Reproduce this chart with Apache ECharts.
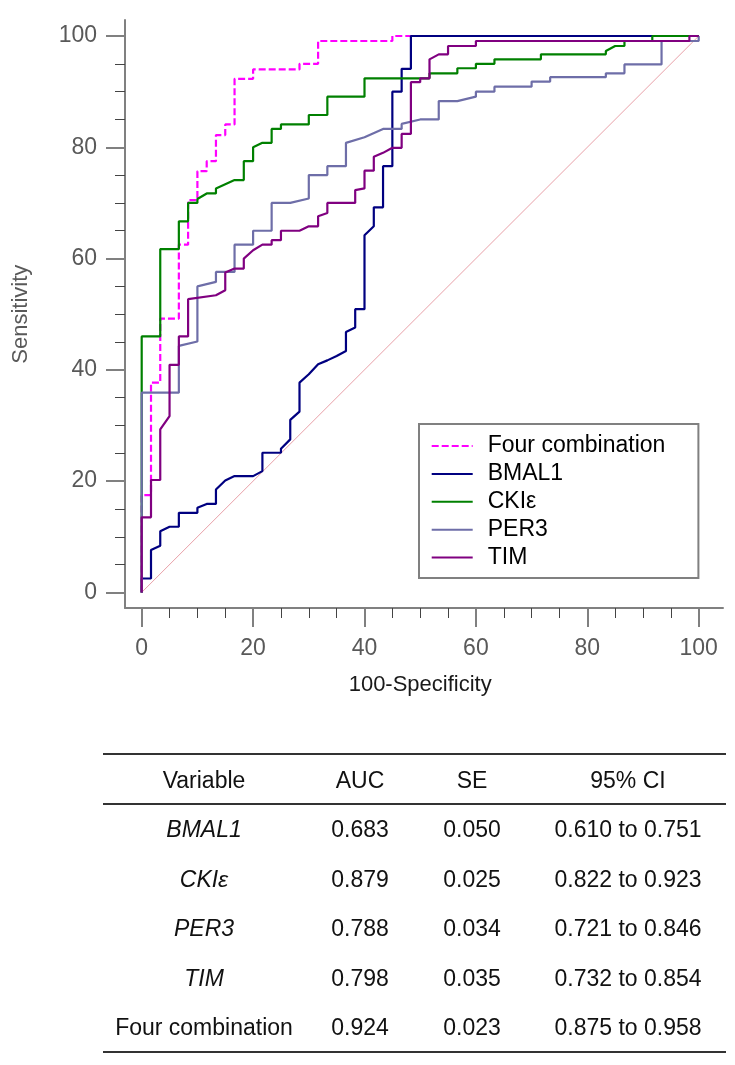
<!DOCTYPE html>
<html><head><meta charset="utf-8">
<script src="https://cdn.jsdelivr.net/npm/echarts@6/dist/echarts.min.js"></script>
<style>html,body{margin:0;padding:0;background:#fff}#c{width:735px;height:1065px}</style>
</head><body><div id="c"></div>
<script>
// ---------- data ----------
const seriesNames = ['Four combination', 'BMAL1', 'CKI\u03b5', 'PER3', 'TIM'];

const fourCombination = [[0,0],[0,17.5],[1.67,17.5],[1.67,37.7],[3.33,37.7],[3.33,49.2],[6.67,49.2],[6.67,62.5],[8.33,62.5],[8.33,70.5],[10,70.5],[10,75.7],[11.67,75.7],[11.67,77.5],[13.33,77.5],[13.33,82.2],[15,82.2],[15,84.1],[16.67,84.1],[16.67,92.3],[20,92.3],[20,94],[28.33,94],[28.33,95],[31.67,95],[31.67,99.1],[45,99.1],[45,100],[100,100]];

const bmal1 = [[0,0],[0,2.5],[1.67,2.5],[1.67,7.6],[3.33,8.4],[3.33,11.0],[5,11.8],[6.67,11.8],[6.67,14.3],[10,14.3],[10,15.2],[11.67,15.9],[13.33,15.9],[13.33,18.5],[15,20.1],[16.67,20.9],[20,20.9],[21.67,21.8],[21.67,25.1],[25,25.1],[25,25.8],[26.67,27.5],[26.67,31.0],[28.33,32.5],[28.33,37.7],[30,39.2],[31.67,41.0],[33.33,41.7],[35,42.5],[36.67,43.4],[36.67,46.8],[38.33,47.6],[38.33,50.9],[40,50.9],[40,64.2],[41.67,65.8],[41.67,69.2],[43.33,69.2],[43.33,76.6],[45,76.6],[45,90],[46.67,90],[46.67,94.1],[48.33,94.1],[48.33,100],[100,100]];

const ckie = [[0,0],[0,46.0],[3.33,46.0],[3.33,61.7],[6.67,61.7],[6.67,66.7],[8.33,66.7],[8.33,70.0],[10,70.0],[10,70.7],[11.67,71.7],[13.33,71.7],[13.33,72.6],[16.67,74.1],[18.33,74.1],[18.33,77.5],[20,77.5],[20,80.0],[21.67,80.8],[23.33,80.8],[23.33,83.3],[25,83.3],[25,84.1],[30,84.1],[30,85.8],[33.33,85.8],[33.33,89.1],[40,89.1],[40,92.4],[51.67,92.4],[51.67,93.3],[56.67,93.3],[56.67,94.2],[60,94.2],[60,95.0],[63.33,95.0],[63.33,95.8],[71.67,95.8],[71.67,96.7],[83.33,96.7],[83.33,97.3],[85,98.2],[86.67,98.2],[86.67,99.1],[91.67,99.1],[91.67,100],[100,100]];

const per3 = [[0,0],[0,35.9],[6.67,35.9],[6.67,44.3],[10,45.1],[10,55.0],[13.33,55.8],[13.33,57.6],[16.67,57.6],[16.67,62.5],[20,62.5],[20,65.0],[23.33,65.0],[23.33,70.0],[26.67,70.0],[30,70.8],[30,75.0],[33.33,75.0],[33.33,76.6],[36.67,76.6],[36.67,80.8],[40,81.8],[43.33,83.3],[46.67,83.3],[46.67,84.2],[50,85.0],[53.33,85.0],[53.33,88.3],[56.67,88.3],[60,89.1],[60,90.0],[63.33,90.0],[63.33,90.9],[70,90.9],[70,91.8],[73.33,91.8],[73.33,92.6],[83.33,92.6],[83.33,93.3],[86.67,93.3],[86.67,94.9],[93.33,94.9],[93.33,99.1],[100,99.1],[100,100]];

const tim = [[0,0],[0,13.5],[1.67,13.5],[1.67,20.2],[3.33,20.2],[3.33,29.3],[5,31.7],[5,40.9],[6.67,40.9],[6.67,46.0],[8.33,46.0],[8.33,52.7],[13.33,53.4],[15,54.3],[15,57.5],[16.67,58.2],[18.33,58.2],[18.33,60.0],[20,61.5],[21.67,62.5],[23.33,62.5],[23.33,63.3],[25,63.3],[25,65.0],[28.33,65.0],[30,65.8],[31.67,65.8],[31.67,67.6],[33.33,68.2],[33.33,70.0],[38.33,70.0],[38.33,72.3],[40,72.6],[40,75.8],[41.67,75.8],[41.67,78.3],[43.33,79.0],[45,79.9],[46.67,79.9],[46.67,82.4],[48.33,82.4],[48.33,91.7],[50,91.7],[50,92.4],[51.67,92.4],[51.67,95.8],[53.33,96.7],[55,96.7],[55,98.2],[60,98.2],[60,99.1],[98.33,99.1],[98.33,100],[100,100]];

const referenceLine = [[0,0],[100,100]];

const tableHeader = ['Variable', 'AUC', 'SE', '95% CI'];
const tableVariables = ['BMAL1', 'CKI\u03b5', 'PER3', 'TIM', 'Four combination'];
const tableItalic = [true, true, true, true, false];
const tableAUC = ['0.683', '0.879', '0.788', '0.798', '0.924'];
const tableSE = ['0.050', '0.025', '0.034', '0.035', '0.023'];
const tableCI = ['0.610 to 0.751', '0.822 to 0.923', '0.721 to 0.846', '0.732 to 0.854', '0.875 to 0.958'];

// ---------- styling / layout ----------
const FONT = "'Liberation Sans', Arial, sans-serif";
const colors = ['#ff00ff', '#000080', '#008000', '#6e6ea8', '#800080'];
const curves = [fourCombination, bmal1, ckie, per3, tim];
const plot = {x0: 141.7, x1: 698.7, y0: 592.4, y1: 36};
const frame = {left: 125, top: 20, right: 723, bottom: 608};

const chart = echarts.init(document.getElementById('c'), null, {renderer: 'canvas'});

const series = [{
  type: 'line', name: 'ref', data: referenceLine, xAxisIndex: 0, yAxisIndex: 0,
  symbol: 'none', silent: true, z: 1,
  lineStyle: {color: '#e8a0a8', width: 1}
}];
curves.forEach((d, i) => {
  series.push({
    type: 'line', name: seriesNames[i], data: d, xAxisIndex: 0, yAxisIndex: 0,
    symbol: 'none', showSymbol: false, z: 2 + i, animation: false,
    lineStyle: {color: colors[i], width: 2.2, type: i === 0 ? [7, 3] : 'solid'},
    itemStyle: {color: colors[i]}
  });
});

// table graphic
const colX = [204, 360, 472, 628];
const headerY = 781.5, rowY0 = 831, rowStep = 49.5;
const ruleYs = [754, 804, 1052];
const tblLeft = 103, tblRight = 726;
const g = [];
ruleYs.forEach(y => g.push({type: 'line', shape: {x1: tblLeft, y1: y, x2: tblRight, y2: y}, style: {stroke: '#333', lineWidth: 2}}));
const txt = (s, x, y, italic) => ({type: 'text', x: x, y: y, style: {text: s, fill: '#111', fontSize: 23, fontFamily: FONT, fontStyle: italic ? 'italic' : 'normal', align: 'center', verticalAlign: 'middle'}});
tableHeader.forEach((s, j) => g.push(txt(s, colX[j], headerY, false)));
tableVariables.forEach((v, i) => {
  const y = rowY0 + i * rowStep;
  g.push(txt(v, colX[0], y, tableItalic[i]));
  g.push(txt(tableAUC[i], colX[1], y, false));
  g.push(txt(tableSE[i], colX[2], y, false));
  g.push(txt(tableCI[i], colX[3], y, false));
});

const tickStyle = {show: true, length: 19, lineStyle: {color: '#808080', width: 2}};
const minorStyle = {show: true, splitNumber: 4, length: 10, lineStyle: {color: '#444', width: 1}};
const labelStyle = {fontSize: 23, color: '#595959', fontFamily: FONT};

chart.setOption({
  animation: false,
  backgroundColor: '#fff',
  grid: [
    {left: plot.x0, top: plot.y1, width: plot.x1 - plot.x0, height: plot.y0 - plot.y1},
    {left: frame.left, top: frame.top, width: frame.right - frame.left, height: frame.bottom - frame.top}
  ],
  xAxis: [
    {type: 'value', gridIndex: 0, min: 0, max: 100, interval: 20, offset: frame.bottom - plot.y0,
     axisLine: {show: false, onZero: false}, axisTick: tickStyle, minorTick: minorStyle,
     splitLine: {show: false}, minorSplitLine: {show: false},
     axisLabel: Object.assign({margin: 29}, labelStyle),
     name: '100-Specificity', nameLocation: 'middle', nameGap: 66,
     nameTextStyle: {fontSize: 22, color: '#1a1a1a', fontFamily: FONT}},
    {type: 'value', gridIndex: 1, min: 0, max: 1, axisLine: {show: true, onZero: false, lineStyle: {color: '#808080', width: 2}},
     axisTick: {show: false}, axisLabel: {show: false}, splitLine: {show: false}}
  ],
  yAxis: [
    {type: 'value', gridIndex: 0, min: 0, max: 100, interval: 20, offset: plot.x0 - frame.left,
     axisLine: {show: false, onZero: false}, axisTick: tickStyle, minorTick: minorStyle,
     splitLine: {show: false}, minorSplitLine: {show: false},
     axisLabel: Object.assign({margin: 28}, labelStyle),
     name: 'Sensitivity', nameLocation: 'middle', nameGap: 93, nameRotate: 90,
     nameTextStyle: {fontSize: 22, color: '#595959', fontFamily: FONT}},
    {type: 'value', gridIndex: 1, min: 0, max: 1, axisLine: {show: true, onZero: false, lineStyle: {color: '#808080', width: 2}},
     axisTick: {show: false}, axisLabel: {show: false}, splitLine: {show: false}}
  ],
  legend: {
    data: seriesNames, orient: 'vertical', left: 419, top: 424,
    padding: [10.5, 33, 9, 11.7], itemWidth: 41, itemHeight: 22, itemGap: 4.9,
    borderColor: '#808080', borderWidth: 2, backgroundColor: '#fff',
    selectedMode: false,
    itemStyle: {opacity: 0},
    lineStyle: {width: 2},
    textStyle: {fontSize: 23, color: '#000', fontFamily: FONT, lineHeight: 22, padding: [0, 0, 0, 10]}
  },
  series: series,
  graphic: g
});
</script>
</body></html>
